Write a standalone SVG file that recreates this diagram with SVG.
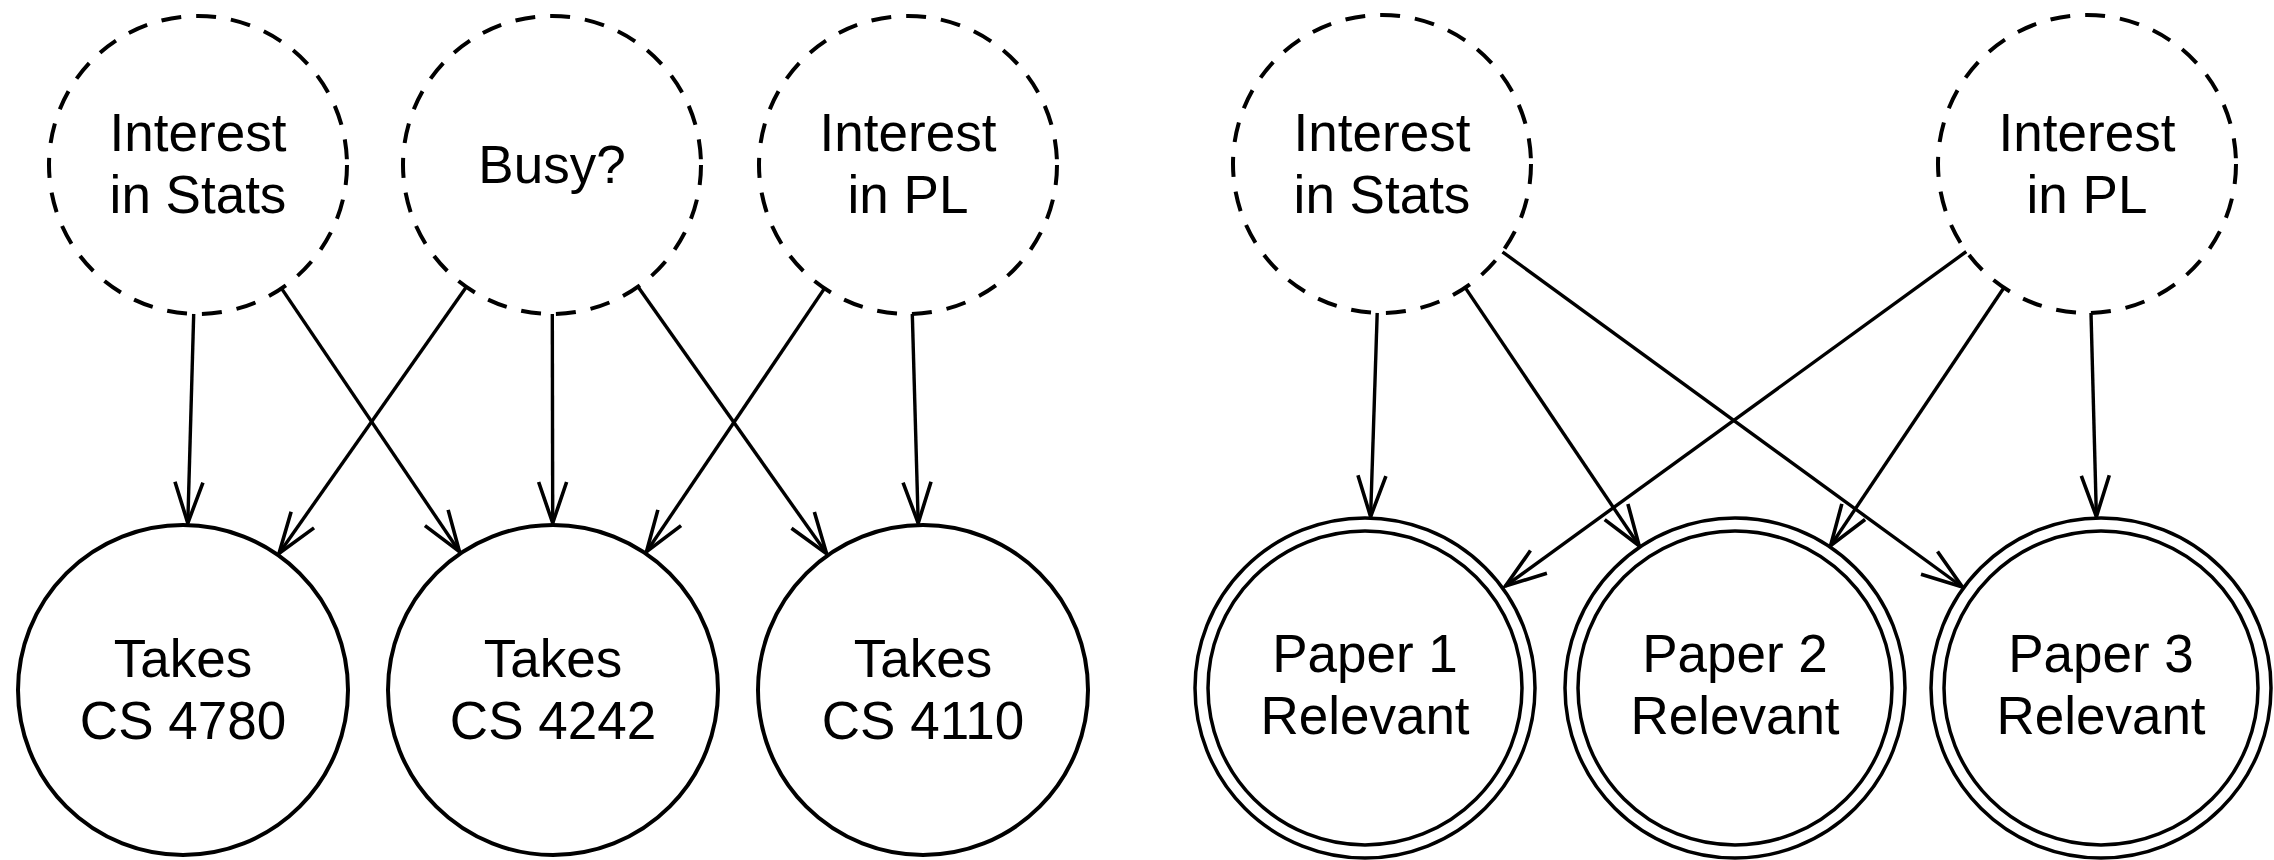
<svg xmlns="http://www.w3.org/2000/svg" width="2274" height="860" viewBox="0 0 2274 860">
<style>
  .bg { fill: #ffffff; }
  .latent { fill: #ffffff; stroke: #000; stroke-width: 4; stroke-dasharray: 20 15; }
  .obs { fill: #ffffff; stroke: #000; stroke-width: 4; }
  .dbl { fill: #ffffff; stroke: #000; stroke-width: 3.5; }
  .lbl { font-family: "Liberation Sans", Arial, Helvetica, sans-serif; font-size: 53px; fill: #000; text-anchor: middle; }
  .edge { fill: none; stroke: #000; stroke-width: 3.4; marker-end: url(#arr); }
</style>
<defs>
  <marker id="arr" markerUnits="userSpaceOnUse" markerWidth="60" markerHeight="60" viewBox="-50 -30 60 60" refX="0" refY="0" orient="auto" overflow="visible">
    <path d="M -41 -14 L 0 0 L -41 14" fill="none" stroke="#000" stroke-width="3.6" stroke-linejoin="miter"/>
  </marker>
</defs>
<rect class="bg" x="0" y="0" width="2274" height="860"/>

<g id="connectors">
  <line class="edge" x1="193.7" y1="313.9" x2="187.8" y2="523.1"/>
  <line class="edge" x1="281.5" y1="288.4" x2="459.5" y2="551.7"/>
  <line class="edge" x1="466.3" y1="286.9" x2="279.0" y2="553.4"/>
  <line class="edge" x1="552.3" y1="314" x2="552.7" y2="523"/>
  <line class="edge" x1="638.0" y1="286.7" x2="826.6" y2="553.6"/>
  <line class="edge" x1="824.5" y1="288.4" x2="646.5" y2="551.7"/>
  <line class="edge" x1="912.3" y1="313.9" x2="918.2" y2="523.1"/>
  <line class="edge" x1="1377.2" y1="312.9" x2="1370.6" y2="516.6"/>
  <line class="edge" x1="1465.2" y1="287.6" x2="1639.2" y2="545.8"/>
  <line class="edge" x1="1502.4" y1="251.8" x2="1962.4" y2="587.0"/>
  <line class="edge" x1="1966.4" y1="251.5" x2="1505.5" y2="586.0"/>
  <line class="edge" x1="2003.9" y1="287.7" x2="1830.6" y2="545.7"/>
  <line class="edge" x1="2091.0" y1="312.9" x2="2096.4" y2="516.6"/>
</g>

<g id="interest-stats-1">
  <circle class="latent" cx="198" cy="165" r="149"/>
  <text class="lbl" x="198" y="151">Interest</text>
  <text class="lbl" x="198" y="213">in Stats</text>
</g>
<g id="busy">
  <circle class="latent" cx="552" cy="165" r="149"/>
  <text class="lbl" x="552" y="183">Busy?</text>
</g>
<g id="interest-pl-1">
  <circle class="latent" cx="908" cy="165" r="149"/>
  <text class="lbl" x="908" y="151">Interest</text>
  <text class="lbl" x="908" y="213">in PL</text>
</g>
<g id="takes-4780">
  <circle class="obs" cx="183" cy="690" r="165"/>
  <text class="lbl" x="183" y="677">Takes</text>
  <text class="lbl" x="183" y="739">CS 4780</text>
</g>
<g id="takes-4242">
  <circle class="obs" cx="553" cy="690" r="165"/>
  <text class="lbl" x="553" y="677">Takes</text>
  <text class="lbl" x="553" y="739">CS 4242</text>
</g>
<g id="takes-4110">
  <circle class="obs" cx="923" cy="690" r="165"/>
  <text class="lbl" x="923" y="677">Takes</text>
  <text class="lbl" x="923" y="739">CS 4110</text>
</g>

<g id="interest-stats-2">
  <circle class="latent" cx="1382" cy="164" r="149"/>
  <text class="lbl" x="1382" y="151">Interest</text>
  <text class="lbl" x="1382" y="213">in Stats</text>
</g>
<g id="interest-pl-2">
  <circle class="latent" cx="2087" cy="164" r="149"/>
  <text class="lbl" x="2087" y="151">Interest</text>
  <text class="lbl" x="2087" y="213">in PL</text>
</g>
<g id="paper-1">
  <circle class="dbl" cx="1365" cy="688" r="170"/>
  <circle class="dbl" cx="1365" cy="688" r="157"/>
  <text class="lbl" x="1365" y="672">Paper 1</text>
  <text class="lbl" x="1365" y="734">Relevant</text>
</g>
<g id="paper-2">
  <circle class="dbl" cx="1735" cy="688" r="170"/>
  <circle class="dbl" cx="1735" cy="688" r="157"/>
  <text class="lbl" x="1735" y="672">Paper 2</text>
  <text class="lbl" x="1735" y="734">Relevant</text>
</g>
<g id="paper-3">
  <circle class="dbl" cx="2101" cy="688" r="170"/>
  <circle class="dbl" cx="2101" cy="688" r="157"/>
  <text class="lbl" x="2101" y="672">Paper 3</text>
  <text class="lbl" x="2101" y="734">Relevant</text>
</g>
</svg>
